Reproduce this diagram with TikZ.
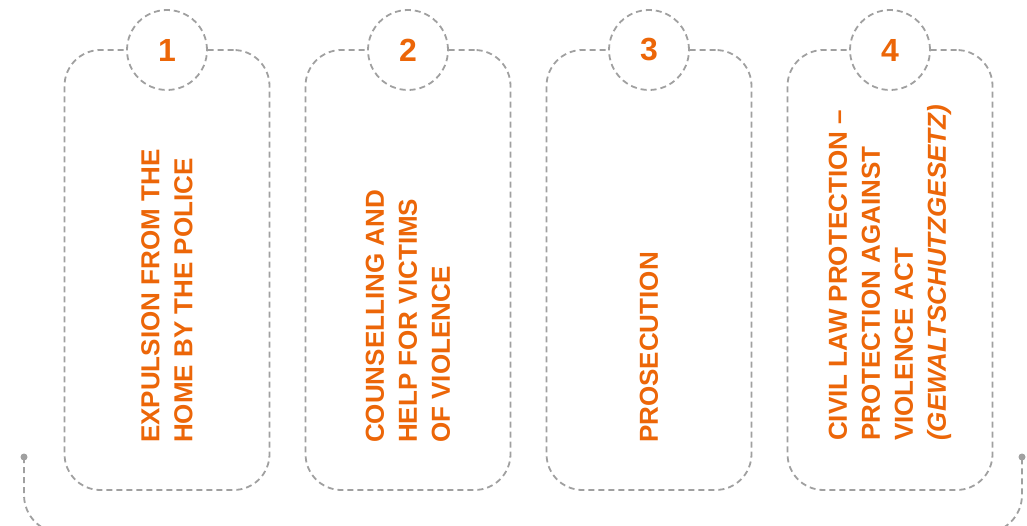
\documentclass[tikz,border=0pt]{standalone}
\usepackage{fontspec}
\setmainfont{Liberation Sans}
\definecolor{orng}{RGB}{236,102,8}
\definecolor{dgray}{RGB}{160,160,160}
\begin{document}
\begin{tikzpicture}[x=1pt,y=-1pt,
  dline/.style={draw=dgray,line width=1.8pt,dash pattern=on 6pt off 4pt},
  card/.style={dline,rounded corners=36pt,minimum width=205pt,minimum height=440pt,inner sep=0pt},
  numc/.style={dline,circle,fill=white,minimum size=80pt,inner sep=0pt,text=orng,font=\bfseries\fontsize{32}{32}\selectfont},
  lbl/.style={rotate=90,anchor=west,align=left,inner sep=0pt,text=orng,font=\bfseries\fontsize{26}{33}\selectfont},
  enddot/.style={circle,fill=dgray,inner sep=0pt,minimum size=7pt}
]
\useasboundingbox (0,0) rectangle (1027,526);
% bracket
\node[enddot] (dl) at (24,457) {};
\node[enddot] (dr) at (1022,457) {};
\draw[dline,rounded corners=38pt] (dl.center) |- (523,533) -| (dr.center);
% cards
\foreach \i/\cx in {1/167,2/408,3/649,4/890}{
  \node[card] (b\i) at (\cx,270) {};
  \node[numc] (c\i) at (\cx,50) {\i};
}
\node[lbl] (t1) at (167,443) {EXPULSION FROM THE\\HOME BY THE POLICE};
\node[lbl] (t2) at (408,443) {COUNSELLING AND\\HELP FOR VICTIMS\\OF VIOLENCE};
\node[lbl] (t3) at (649,443) {PROSECUTION};
\node[lbl] (t4) at (890,441) {CIVIL LAW PROTECTION –\\PROTECTION AGAINST\\VIOLENCE ACT\\\textit{(GEWALTSCHUTZGESETZ)}};
\end{tikzpicture}
\end{document}
